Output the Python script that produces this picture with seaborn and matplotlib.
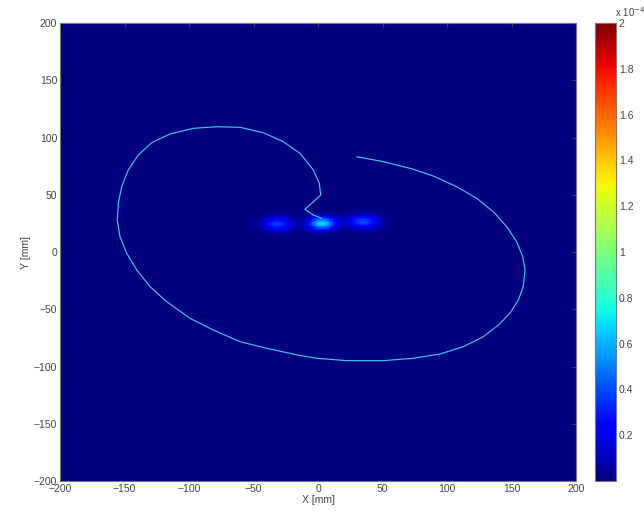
import numpy as np
import pandas as pd
import matplotlib
matplotlib.use('Agg')
import matplotlib.pyplot as plt
import seaborn as sns

# ==================================================
# Dados
# ==================================================
# trajetória (mm)
traj_x = [30.0, 50.6, 71.3, 89.4, 107.5, 123.0, 135.9, 146.3, 154.0, 158.7,
          160.5, 159.1, 155.3, 148.8, 139.8, 128.1, 112.6, 94.6, 73.9, 50.6,
          22.2, -1.0, -14.0, -39.8, -60.5, -81.2, -99.2, -117.3, -130.2, -140.5,
          -148.3, -153.5, -155.6, -154.8, -152.2, -147.1, -139.3, -128.9, -114.7, -96.7,
          -78.5, -60.5, -42.4, -26.9, -14.0, -3.6, 1.0, 2.1, -3.6, -10.1,
          -3.6, 2.9]
traj_y = [83.2, 78.9, 73.1, 66.4, 57.0, 46.9, 35.2, 22.1, 9.0, -4.1,
          -15.7, -30.3, -41.9, -53.5, -63.8, -74.0, -82.7, -89.1, -92.8, -94.9,
          -94.9, -92.8, -90.4, -84.1, -78.3, -68.1, -57.9, -43.4, -30.3, -15.7,
          -1.1, 13.4, 27.9, 42.5, 57.0, 71.6, 84.7, 95.5, 103.1, 108.0,
          109.4, 108.9, 104.2, 96.3, 86.2, 71.6, 60.0, 49.8, 43.9, 37.3,
          32.3, 29.4]

# manchas (centro em mm, pico em 1e-4, largura em mm)
blob_x = [-32.0, 3.0, 35.0]
blob_y = [24.5, 25.0, 26.5]
blob_pico = [0.38, 0.68, 0.40]
blob_sx = [8.0, 7.5, 8.5]
blob_sy = [4.2, 4.0, 4.2]

cbar_ticks = [0.2, 0.4, 0.6, 0.8, 1.0, 1.2, 1.4, 1.6, 1.8, 2.0]
eixo_ticks = [-200, -150, -100, -50, 0, 50, 100, 150, 200]

# ==================================================
# Campo
# ==================================================
grade = np.arange(-200, 201, 1.0)
gx, gy = np.meshgrid(grade, grade)
campo = np.zeros_like(gx)
for cx, cy, a, sx, sy in zip(blob_x, blob_y, blob_pico, blob_sx, blob_sy):
    campo += a * np.exp(-((gx - cx) ** 2 / (2 * sx ** 2) + (gy - cy) ** 2 / (2 * sy ** 2)))

sns.set_style('white')
plt.rcParams['font.family'] = ['Liberation Sans', 'DejaVu Sans']

fig = plt.figure(figsize=(6.44, 5.11), dpi=100)
ax = fig.add_axes([60 / 644, 1 - 481 / 511, 516 / 644, 458 / 511])
cax = fig.add_axes([595 / 644, 1 - 481 / 511, 21 / 644, 458 / 511])

im = ax.imshow(campo, origin='lower', extent=[-200, 200, -200, 200], cmap='jet',
               vmin=0, vmax=2.0, interpolation='nearest', aspect='auto')

df = pd.DataFrame({'x': traj_x, 'y': traj_y})
sns.lineplot(data=df, x='x', y='y', sort=False, estimator=None, ax=ax,
             color='#3cc8e6', linewidth=0.85)

ax.set_xlim(-200, 200)
ax.set_ylim(-200, 200)
ax.set_xticks(eixo_ticks)
ax.set_yticks(eixo_ticks)
ax.set_xlabel('X [mm]', fontsize=7.5, color='#444444', labelpad=1)
ax.set_ylabel('Y [mm]', fontsize=7.5, color='#444444', labelpad=2)
ax.tick_params(labelsize=7.5, colors='#444444', direction='in', length=3,
               top=True, right=True, pad=2)
for s in ax.spines.values():
    s.set_color('#777777')
    s.set_linewidth(0.8)

cb = fig.colorbar(im, cax=cax)
cb.set_ticks(cbar_ticks)
cb.set_ticklabels(['%g' % t for t in cbar_ticks])
cax.tick_params(labelsize=7.5, colors='#444444', direction='in', length=3,
                left=True, right=True, pad=2)
cb.outline.set_edgecolor('#777777')
cb.outline.set_linewidth(0.8)
fig.text(615 / 644, 1 - 12 / 511, r'x 10$^{-4}$', fontsize=7, color='#444444',
         ha='left', va='center')

fig.savefig('out.png', dpi=100, facecolor='white')
